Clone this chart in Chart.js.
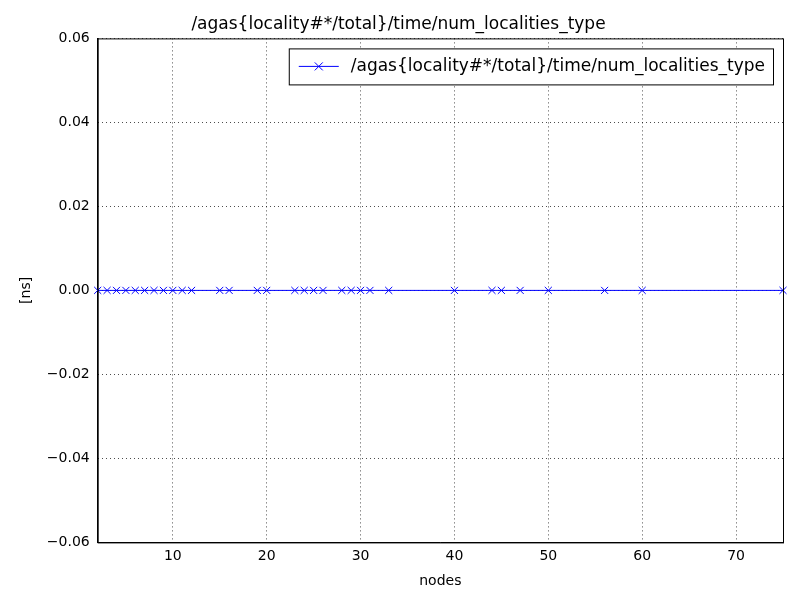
<!DOCTYPE html>
<html><head><meta charset="utf-8">
<script src="https://cdn.jsdelivr.net/npm/chart.js@4"></script>
<style>html,body{margin:0;background:#fff}#wrap{width:800px;height:600px}</style>
</head><body><div id="wrap"><canvas id="c"></canvas></div>
<script>
const seriesName = '/agas{locality#*/total}/time/num_localities_type';
const nodes = [2,3,4,5,6,7,8,9,10,11,12,15,16,19,20,23,24,25,26,28,29,30,31,33,40,44,45,47,50,56,60,75];
const values = nodes.map(() => 0);
const xTicks = [10,20,30,40,50,60,70];
const yTicks = [-0.06,-0.04,-0.02,0,0.02,0.04,0.06];

const font = { family: "'DejaVu Sans', sans-serif", size: 14 };
const grid = { color: '#000', lineWidth: 0.7, drawTicks: false };
const border = { color: '#000', width: 1, dash: [1, 3] };

// matplotlib-style legend box in the upper right corner
const boxLegend = {
  id: 'boxLegend',
  afterDraw(chart) {
    const { ctx, chartArea: a } = chart;
    ctx.save();
    ctx.font = "17px 'DejaVu Sans', sans-serif";
    const tw = ctx.measureText(seriesName).width;
    const w = tw + 70, h = 36, x = a.right - 10 - w, y = a.top + 10;
    ctx.fillStyle = '#fff'; ctx.fillRect(x, y, w, h);
    ctx.strokeStyle = '#000'; ctx.lineWidth = 1; ctx.strokeRect(x + 0.5, y + 0.5, w, h);
    const my = y + h / 2;
    ctx.strokeStyle = '#0000ff';
    ctx.beginPath(); ctx.moveTo(x + 10, my); ctx.lineTo(x + 50, my); ctx.stroke();
    ctx.beginPath();
    ctx.moveTo(x + 26, my - 4); ctx.lineTo(x + 34, my + 4);
    ctx.moveTo(x + 26, my + 4); ctx.lineTo(x + 34, my - 4); ctx.stroke();
    ctx.fillStyle = '#000'; ctx.textBaseline = 'middle';
    ctx.fillText(seriesName, x + 62, my);
    ctx.restore();
  }
};

new Chart(document.getElementById('c'), {
  type: 'line',
  data: { datasets: [{
    label: seriesName,
    data: nodes.map((x, i) => ({ x, y: values[i] })),
    borderColor: '#0000ff', borderWidth: 1,
    pointStyle: 'crossRot', pointRadius: 5, pointBorderColor: '#0000ff',
    pointBorderWidth: 1, fill: false, tension: 0, clip: false,
  }]},
  plugins: [boxLegend],
  options: {
    responsive: true, maintainAspectRatio: false, animation: false,
    layout: { padding: { left: 14, right: 17, top: 8, bottom: 8 } },
    plugins: {
      title: { display: true, text: seriesName, color: '#000', font: { ...font, size: 17, weight: 'normal' }, padding: { top: 6, bottom: 4 } },
      legend: { display: false },
      tooltip: { enabled: false },
    },
    scales: {
      x: { type: 'linear', min: 2, max: 75,
        afterBuildTicks: a => { a.ticks = xTicks.map(v => ({ value: v })); },
        grid, border,
        ticks: { color: '#000', font, padding: 6 },
        title: { display: true, text: 'nodes', color: '#000', font, padding: 2 },
      },
      y: { min: -0.06, max: 0.06,
        afterBuildTicks: a => { a.ticks = yTicks.map(v => ({ value: v })); },
        grid, border,
        ticks: { color: '#000', font, padding: 8,
          callback: v => (v < 0 ? '\u2212' : '') + Math.abs(v).toFixed(2) },
        title: { display: true, text: '[ns]', color: '#000', font },
      },
    },
  },
  });
// solid axes frame
Chart.register({ id: 'frame', afterDraw(c) {
  const { ctx, chartArea: a } = c;
  ctx.save(); ctx.strokeStyle = '#000'; ctx.lineWidth = 1;
  ctx.strokeRect(a.left + 0.5, a.top + 0.5, a.width, a.height); ctx.restore();
}});
Chart.getChart('c').update();
</script></body></html>
